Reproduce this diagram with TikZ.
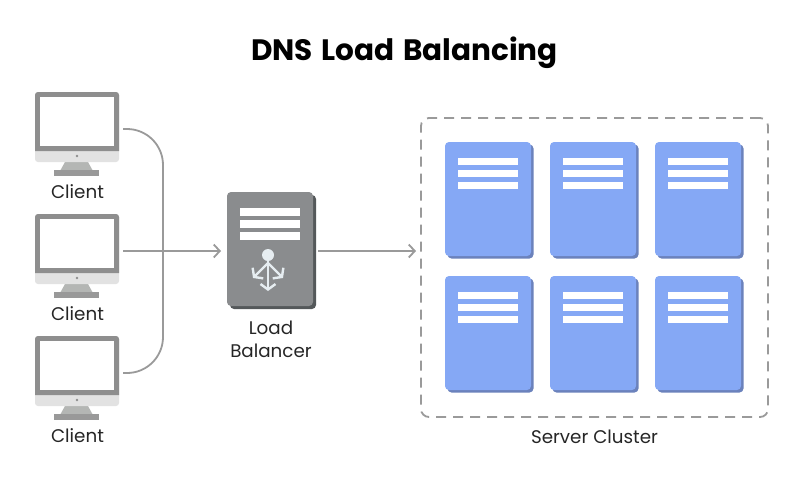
\documentclass[tikz,border=0pt]{standalone}
\usepackage{fontspec}
\setmainfont{Poppins}
\newfontfamily\titlefont[WordSpace=1.4]{Poppins}
\usetikzlibrary{arrows.meta}
\definecolor{framegray}{HTML}{8E8E8E}
\definecolor{chingray}{HTML}{E2E2E2}
\definecolor{standgray}{HTML}{B4B6B4}
\definecolor{lbgray}{HTML}{8A8C8E}
\definecolor{lbshadow}{HTML}{54585A}
\definecolor{srvblue}{HTML}{85A8F5}
\definecolor{srvshadow}{HTML}{6B82BC}
\definecolor{wiregray}{HTML}{9A9A9A}
\definecolor{icongray}{HTML}{E6EDF1}
\tikzset{
  wire/.style={draw=wiregray,line width=1.8pt},
  wirearrow/.style={wire,-{Straight Barb[length=6pt,width=13pt,line width=1.8pt]}},
  label/.style={font=\fontsize{18.3}{23}\selectfont,text=black!85,inner sep=0pt,align=center},
  srvbody/.style={rectangle,rounded corners=4pt,minimum width=86pt,minimum height=114pt,inner sep=0pt},
  srvbar/.style={rectangle,fill=white,minimum width=60pt,minimum height=7.6pt,inner sep=0pt},
  iconline/.style={draw=icongray,line width=2.4pt},
  iconarrow/.style={iconline,-{Straight Barb[length=5.5pt,width=15pt,line width=2.4pt]}},
}
\begin{document}
\begin{tikzpicture}[x=1pt,y=-1pt]
\useasboundingbox[fill=white](0,0)rectangle(800,480);
\node[font=\fontsize{29.5}{34}\selectfont\titlefont\bfseries,inner sep=0pt](title)at(404.5,53){DNS Load Balancing};
% clients
\foreach \name/\y in {clientA/0,clientB/122,clientC/244}{
  \fill[standgray](65,162+\y)--(88,162+\y)--(93,171+\y)--(60,171+\y)--cycle;
  \fill[framegray!90](54,170+\y)rectangle(99,176+\y);
  \node[rectangle,fill=chingray,rounded corners=3pt,minimum width=84pt,minimum height=70pt,inner sep=0pt](\name)at(77,127+\y){};
  \fill[framegray](35,151+\y)[rounded corners=3pt]--(35,92+\y)--(119,92+\y)[sharp corners]--(119,151+\y)--cycle;
  \fill[white](40,97+\y)rectangle(114,146+\y);
  \fill[framegray](77,156+\y)circle(1.3pt);
  \node[label](\name label)at(77.5,192+\y){Client};
  \coordinate(\name out)at(123,129+\y);
}
\coordinate(hub)at(163,251);
\draw[wire,rounded corners=36pt](clientAout)-|(hub);
\draw[wire,rounded corners=36pt](clientCout)-|(hub);
% balancer
\node[srvbody,fill=lbshadow](lbshadow)at(273,252){};
\node[srvbody,fill=lbgray](balancer)at(270,249){};
\foreach \i/\y in {1/212,2/224,3/236}{
  \node[srvbar](lbbar\i)at(270,\y){};
}
\node[circle,fill=icongray,minimum size=12pt,inner sep=0pt](lbdot)at(268,255){};
\coordinate(lbstem)at(268,263);
\coordinate(lbdown)at(268,291);
\coordinate(lbleft)at(253,278);
\coordinate(lbright)at(283,278);
\draw[iconarrow](lbdot)--(lbdown);
\draw[iconarrow](lbstem)--(lbleft);
\draw[iconarrow](lbstem)--(lbright);
\node[label](lblabel)at(271,339){Load\\Balancer};
% connectors
\coordinate(clientBout)at(123,251);
\coordinate(lbin)at(221,251);
\coordinate(lbout)at(318,251);
\coordinate(clusterin)at(416,251);
\draw[wirearrow](clientBout)--(lbin);
\draw[wirearrow](lbout)--(clusterin);
% cluster
\node[rectangle,draw=wiregray,line width=1.8pt,dash pattern=on 10pt off 7pt,rounded corners=8pt,minimum width=347pt,minimum height=299pt,inner sep=0pt](cluster)at(594.5,267.5){};
\foreach \name/\x/\y in {srvA/488/199,srvB/593/199,srvC/698/199,srvD/488/333,srvE/593/333,srvF/698/333}{
  \node[srvbody,fill=srvshadow]at(\x+2.5,\y+2.5){};
  \node[srvbody,fill=srvblue](\name)at(\x,\y){};
  \node[srvbar](\name barA)at(\x,\y-37.5){};
  \node[srvbar](\name barB)at(\x,\y-25.5){};
  \node[srvbar](\name barC)at(\x,\y-13.5){};
}
\node[label](clusterlabel)at(594.5,437){Server Cluster};
\end{tikzpicture}
\end{document}
